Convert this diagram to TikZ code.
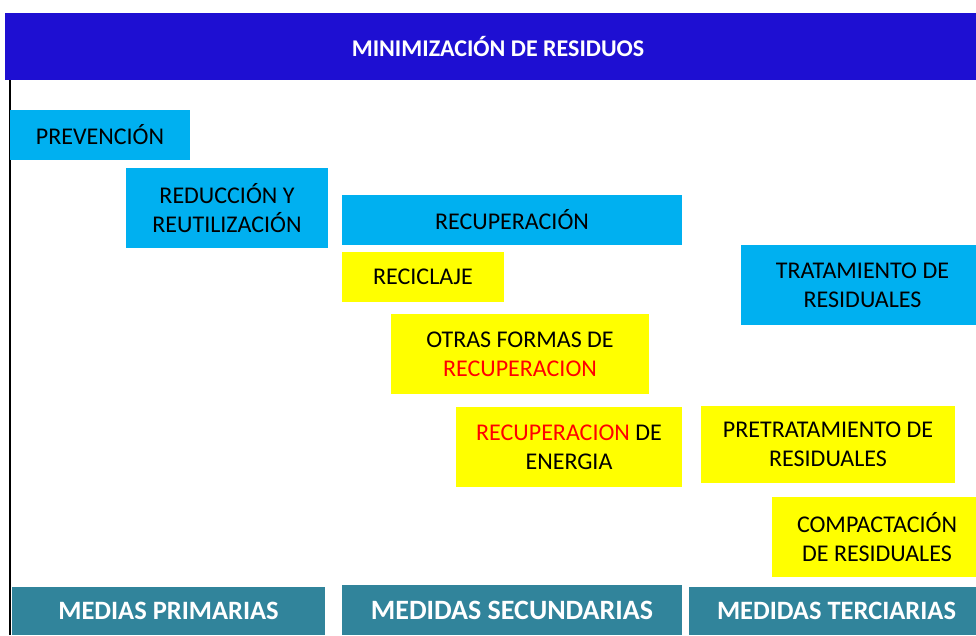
\documentclass[tikz,border=0pt]{standalone}
\usepackage{fontspec}
\setmainfont{Carlito}
\definecolor{topblue}{RGB}{30,15,210}
\definecolor{cyanb}{RGB}{0,176,240}
\definecolor{yel}{RGB}{255,255,0}
\definecolor{teal}{RGB}{49,132,155}
\begin{document}
\begin{tikzpicture}[x=1pt,y=-1pt,
  box/.style={inner sep=0pt, outer sep=0pt, align=center, text=black,
    font=\fontsize{24}{29}\selectfont},
  cbox/.style={box, fill=cyanb},
  ybox/.style={box, fill=yel},
  tbox/.style={inner sep=0pt, outer sep=0pt, fill=teal, text=white,
    font=\fontsize{26.5}{29}\selectfont\bfseries},
]
\useasboundingbox (0,0) rectangle (976,635);
\fill[white] (0,0) rectangle (976,635);
\node[inner sep=0pt, fill=topblue, text=white, minimum width=971pt, minimum height=67pt,
  font=\fontsize{24}{28}\selectfont\bfseries] (title) at (490.5,46.5) {\hspace*{15pt}MINIMIZACIÓN DE RESIDUOS};
\coordinate (lt) at (10,80);
\coordinate (lb) at (10,635);
\draw[line width=2pt] (lt) -- (lb);
\node[cbox, minimum width=180pt, minimum height=50pt] (prev) at (100,135) {PREVENCIÓN};
\node[cbox, minimum width=202pt, minimum height=80pt] (red) at (227,208) {REDUCCIÓN Y\\REUTILIZACIÓN};
\node[cbox, minimum width=340pt, minimum height=50pt] (recu) at (512,220) {RECUPERACIÓN};
\node[ybox, minimum width=162pt, minimum height=50pt] (reci) at (423,277) {RECICLAJE};
\node[ybox, minimum width=258pt, minimum height=80pt] (otras) at (520,354) {OTRAS FORMAS DE\\\textcolor{red}{RECUPERACION}};
\node[ybox, minimum width=226pt, minimum height=80pt] (ener) at (569,447) {\textcolor{red}{RECUPERACION} DE\\ENERGIA};
\node[cbox, minimum width=235pt, minimum height=80pt] (trat) at (858.5,285) {\hspace*{8pt}TRATAMIENTO DE\\\hspace*{8pt}RESIDUALES};
\node[ybox, minimum width=254pt, minimum height=77pt] (pret) at (828,444.5) {PRETRATAMIENTO DE\\RESIDUALES};
\node[ybox, minimum width=204pt, minimum height=80pt] (comp) at (874,537) {\hspace*{6pt}COMPACTACIÓN\\\hspace*{6pt}DE RESIDUALES};
\node[tbox, minimum width=313pt, minimum height=48pt] (prim) at (168.5,611) {MEDIAS PRIMARIAS};
\node[tbox, minimum width=340pt, minimum height=50pt, font=\fontsize{28}{30}\selectfont\bfseries] (sec) at (512,610) {MEDIDAS SECUNDARIAS};
\node[tbox, minimum width=287pt, minimum height=48pt] (ter) at (832.5,611) {\hspace*{8pt}MEDIDAS TERCIARIAS};
\end{tikzpicture}
\end{document}
